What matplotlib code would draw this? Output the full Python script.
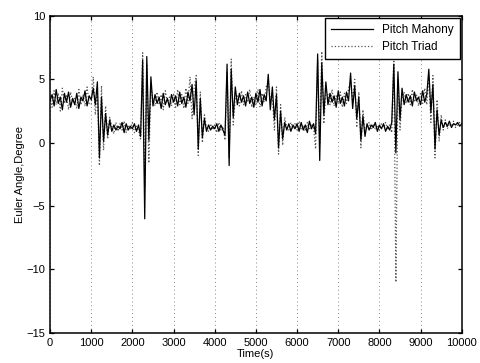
import numpy as np
import matplotlib.pyplot as plt

plt.rcParams['font.family'] = ['Liberation Sans', 'DejaVu Sans']

# time axis, one sample every 50 s
time = np.arange(0, 10001, 50)

pitch_mahony = [
    3.3, 3.8, 2.9, 4.2, 3.1, 3.6, 2.6, 3.9, 3.2, 4.0, 2.8, 3.5, 3.0, 3.9, 2.7, 3.6, 3.3, 4.1, 2.9, 3.7,
    3.4, 4.3, 3.0, 4.8, -1.2, 3.6, 0.1, 2.3, 0.6, 1.8, 0.9, 1.4, 1.0, 1.3, 1.1, 1.6, 0.8, 1.5, 1.0, 1.3,
    1.1, 1.5, 0.9, 1.4, 0.5, 6.5, -6.0, 6.8, 0.2, 5.2, 2.9, 3.8, 3.1, 3.6, 2.7, 3.9, 3.0, 3.5, 2.8, 3.8,
    3.2, 3.7, 2.9, 4.0, 3.1, 3.6, 2.8, 4.0, 3.3, 4.6, 2.2, 4.9, -0.5, 3.5, 0.4, 1.9, 0.9, 1.4, 1.0, 1.3,
    1.1, 1.5, 0.9, 1.4, 1.0, 0.6, 6.2, -1.8, 5.8, 2.0, 4.4, 3.0, 3.9, 3.2, 3.7, 2.9, 4.0, 3.1, 3.6, 2.8,
    3.9, 3.2, 4.2, 2.9, 3.8, 3.3, 5.4, 2.6, 4.4, 1.8, 3.8, -0.4, 2.5, 0.3, 1.6, 1.0, 1.5, 0.9, 1.4, 1.1,
    1.5, 0.9, 1.6, 1.0, 1.4, 0.8, 1.7, 1.1, 1.5, 0.7, 7.0, -1.4, 6.3, 2.2, 4.8, 3.0, 3.9, 3.2, 3.7, 2.8,
    4.1, 3.1, 3.6, 2.9, 4.0, 3.3, 5.5, 2.7, 4.5, 1.9, 3.6, 0.2, 2.1, 0.5, 1.5, 1.0, 1.4, 1.2, 1.6, 0.9,
    1.4, 1.1, 1.5, 0.9, 1.3, 1.0, 1.6, 6.2, -0.8, 5.6, 1.8, 4.3, 3.0, 3.8, 3.2, 3.7, 2.9, 4.0, 3.3, 3.6,
    3.0, 4.1, 3.2, 3.8, 5.8, 2.4, 4.6, -0.5, 2.6, 0.6, 1.8, 1.2, 1.6, 1.3, 1.7, 1.2, 1.5, 1.4, 1.6, 1.3,
    1.5,
]

pitch_triad = [
    3.6, 2.8, 4.1, 3.0, 3.9, 2.5, 4.3, 3.1, 3.7, 2.6, 4.0, 3.2, 3.5, 2.7, 4.2, 3.0, 3.8, 2.9, 4.4, 3.1,
    3.0, 5.2, 2.2, 4.1, -1.8, 4.5, -0.6, 2.9, 0.3, 2.0, 1.3, 0.7, 1.6, 0.9, 1.5, 1.0, 1.7, 0.8, 1.4, 1.1,
    1.6, 0.8, 1.3, 1.0, 0.2, 7.1, -3.5, 6.2, -1.6, 4.4, 3.4, 2.9, 4.0, 3.0, 3.8, 2.6, 4.1, 3.2, 3.6, 2.9,
    3.9, 2.8, 4.2, 3.0, 3.8, 2.7, 4.3, 3.1, 5.2, 1.9, 4.3, 5.3, -1.0, 4.0, 0.0, 2.2, 1.2, 0.9, 1.5, 1.0,
    1.4, 0.8, 1.6, 1.0, 1.3, 0.2, 5.6, -1.2, 6.6, 1.4, 3.6, 3.8, 2.9, 4.1, 3.0, 3.8, 3.2, 4.2, 2.8, 3.6,
    3.0, 4.2, 2.8, 3.9, 3.2, 4.4, 4.8, 3.4, 3.6, 1.0, 4.4, -0.9, 3.0, -0.2, 2.0, 1.2, 1.0, 1.6, 1.1, 1.5,
    1.0, 1.7, 1.1, 1.4, 0.9, 1.6, 1.0, 1.5, 1.2, -0.5, 6.5, 0.0, 7.2, 1.5, 4.0, 3.8, 3.0, 4.2, 2.9, 3.7,
    3.2, 4.0, 2.8, 3.9, 3.1, 4.3, 4.8, 3.3, 5.0, 1.2, 4.0, -0.4, 2.6, 0.9, 1.2, 1.6, 1.0, 1.5, 1.1, 1.4,
    1.0, 1.5, 1.2, 1.6, 1.0, 1.4, 0.8, 6.8, -11.0, 5.0, 1.0, 3.6, 4.0, 3.1, 3.9, 3.0, 4.2, 3.2, 3.8, 2.9,
    4.0, 3.1, 4.3, 3.0, 5.2, 1.6, 5.3, -1.2, 3.4, 0.1, 2.2, 1.0, 1.8, 1.1, 1.5, 1.3, 1.7, 1.2, 1.4, 1.6,
    1.4,
]

xticks = np.arange(0, 10001, 1000)
yticks = np.arange(-15, 11, 5)

fig = plt.figure(figsize=(4.81, 3.63), dpi=100)
ax = fig.add_axes([0.104, 0.083, 0.856, 0.873])

ax.plot(time, pitch_mahony, color='black', lw=0.9, label='Pitch Mahony', zorder=3)
ax.plot(time, pitch_triad, color='#555555', lw=0.9, ls=':', label='Pitch Triad', zorder=2)

ax.set_xlim(0, 10000)
ax.set_ylim(-15, 10)
ax.set_xticks(xticks)
ax.set_yticks(yticks)
ax.tick_params(direction='in', top=True, right=True, labelsize=8, length=3, width=0.9)
ax.xaxis.grid(True, ls=(0, (1, 3)), color='#888888', lw=0.7)
for s in ax.spines.values():
    s.set_linewidth(1.1)

ax.set_xlabel('Time(s)', fontsize=8, labelpad=1)
ax.set_ylabel('Euler Angle,Degree', fontsize=8, labelpad=1)

leg = ax.legend(loc='upper right', fontsize=8.5, handlelength=3.6, fancybox=False,
                framealpha=1, edgecolor='black', borderaxespad=0.15, labelspacing=0.45,
                borderpad=0.5)
leg.get_frame().set_linewidth(1.0)

plt.savefig('out.png', dpi=100)
